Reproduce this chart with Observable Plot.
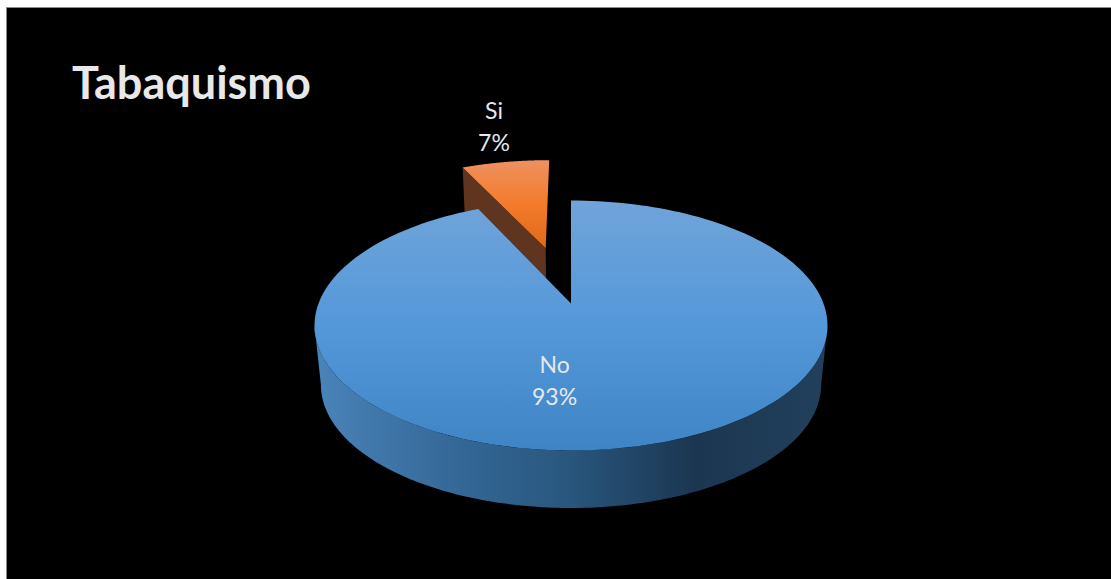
<!DOCTYPE html>
<html lang="es">
<head>
<meta charset="utf-8">
<title>Tabaquismo</title>
<script src="https://cdn.jsdelivr.net/npm/d3@7"></script>
<script src="https://cdn.jsdelivr.net/npm/@observablehq/plot@0.6"></script>
<style>
  html, body { margin: 0; background: #fff; overflow: hidden; }
  #page { position: relative; width: 1111px; height: 579px; overflow: hidden; }
  #panel { position: absolute; left: 6px; top: 7px; right: -2px; bottom: -2px;
           background: #000; border: 1px solid #8c8c8c; }
  #page h1 { position: absolute; left: 72px; top: 57px; margin: 0; color: #e8e8e8;
             font: 700 45px/50px Lato, sans-serif; }
  #chart { position: absolute; left: 0; top: 0; }
  #chart svg { background: none; display: block; }
</style>
</head>
<body>
<div id="page">
  <div id="panel"></div>
  <h1>Tabaquismo</h1>
  <div id="chart"></div>
</div>
<script>
// Survey answers, in percent
const categories = ["No", "Si"];
const shares = [93, 7];

// Where the two labels sit, in the chart's projected units
const labelSpots = {No: [-0.065, 0.62], Si: [-0.305, -1.475]};

// A tilted disc: points in the unit plane pass through a perspective divide
const tilt = 0.176;
const bottomScale = {x: 0.975, y: 0.985, shift: 0.493};
const project = (X, Z, bottom = false) => {
  const w = 1 - tilt * Z;
  return bottom
    ? {u: (X / w) * bottomScale.x, v: (Z / w) * bottomScale.y + bottomScale.shift}
    : {u: X / w, v: Z / w};
};

// Angles run clockwise from twelve o'clock; "No" is first, "Si" closes the circle
const arcs = d3.pie().sort(null)(shares).map((a, i) => ({...a, name: categories[i]}));
const [noArc, siArc] = arcs;

// Pull-out of the small slice, along its bisector in the plane
const explode = {X: -0.109, Z: -0.495};

const rimPoint = (theta, offset, bottom) =>
  project(offset.X + Math.sin(theta), offset.Z - Math.cos(theta), bottom);

const sweep = (start, end, offset, bottom) =>
  d3.range(0, 181).map((i) => rimPoint(start + ((end - start) * i) / 180, offset, bottom));

const still = {X: 0, Z: 0};

const wedge = (arc, offset, bottom = false) => {
  const apex = project(offset.X, offset.Z, bottom);
  return [apex, ...sweep(arc.startAngle, arc.endAngle, offset, bottom), apex];
};

// Silhouette of the outer wall: between the two tangent points of the near rim
const tangent = Math.acos(-tilt);
const frontWall = [
  ...sweep(tangent, 2 * Math.PI - tangent, still, false),
  ...sweep(2 * Math.PI - tangent, tangent, still, true)
];

// Cut face of the pulled-out slice
const siApexTop = project(explode.X, explode.Z);
const siApexBottom = project(explode.X, explode.Z, true);
const siCutFace = [
  siApexTop,
  rimPoint(siArc.startAngle, explode, false),
  rimPoint(siArc.startAngle, explode, true),
  siApexBottom,
  siApexTop
];

const labels = arcs.map((a) => ({
  u: labelSpots[a.name][0],
  v: labelSpots[a.name][1],
  text: `${a.name}\n${a.data}%`
}));

// Gradient paints referenced by the marks below
function paints() {
  const ns = "http://www.w3.org/2000/svg";
  const defs = document.createElementNS(ns, "defs");
  const add = (id, horizontal, stops) => {
    const g = document.createElementNS(ns, "linearGradient");
    g.setAttribute("id", id);
    g.setAttribute("x1", 0); g.setAttribute("y1", 0);
    g.setAttribute("x2", horizontal ? 1 : 0); g.setAttribute("y2", horizontal ? 0 : 1);
    for (const [offset, color] of stops) {
      const s = document.createElementNS(ns, "stop");
      s.setAttribute("offset", offset);
      s.setAttribute("stop-color", color);
      g.appendChild(s);
    }
    defs.appendChild(g);
  };
  add("noTop", false, [[0, "#70a4d9"], [0.5, "#5498da"], [1, "#3f84c5"]]);
  add("noWall", true, [[0, "#4a84ba"], [0.25, "#366a9a"], [0.5, "#28567d"], [0.74, "#1b3651"], [1, "#22405c"]]);
  add("siTop", false, [[0, "#ee9160"], [0.5, "#f47b2b"], [1, "#dd6a18"]]);
  const g = document.createElementNS(ns, "g");
  g.appendChild(defs);
  return g;
}

const surface = (points, fill) =>
  Plot.line(points, {x: "u", y: "v", fill, stroke: "none"});

const chart = Plot.plot({
  width: 1111,
  height: 579,
  margin: 0,
  style: {background: "none"},
  x: {domain: [-570.5 / 252.5, 540.5 / 252.5], range: [0, 1111], axis: null},
  y: {domain: [-303 / 121.1, 276 / 121.1], range: [0, 579], axis: null},
  marks: [
    paints,
    surface(siCutFace, "#60351f"),
    surface(wedge(siArc, explode), "url(#siTop)"),
    surface(frontWall, "url(#noWall)"),
    surface(wedge(noArc, still), "url(#noTop)"),
    Plot.text(labels, {
      x: "u",
      y: "v",
      text: "text",
      fill: "#e4e8ee",
      fontFamily: "Lato, sans-serif",
      fontSize: 23,
      lineHeight: 1.39
    })
  ]
});

document.getElementById("chart").appendChild(chart);
</script>
</body>
</html>
